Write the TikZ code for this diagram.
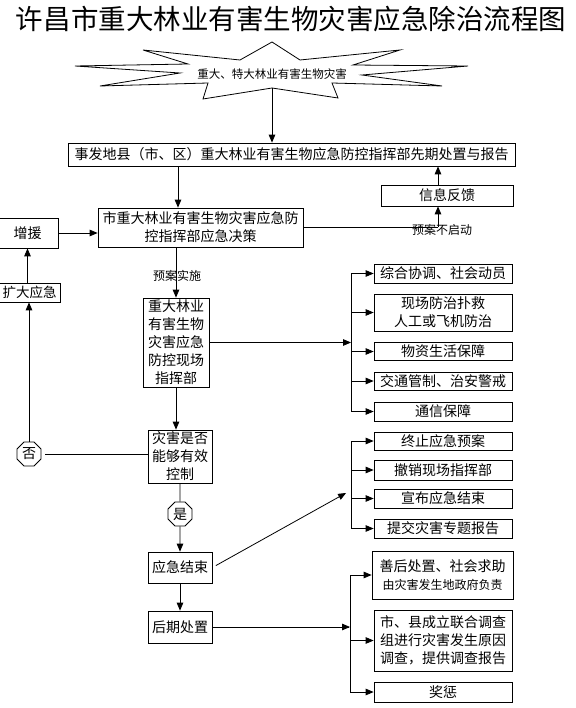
\documentclass[tikz,border=0pt]{standalone}
\usepackage{fontspec}
\setmainfont{Noto Sans CJK SC}
\usetikzlibrary{positioning,arrows,shapes.geometric,calc}
\tikzset{
  box/.style={draw=black, rectangle, inner sep=0pt, align=center,
    font=\fontsize{14}{18}\selectfont},
  sidebox/.style={box, minimum width=138pt, minimum height=19pt},
  midbox/.style={box, minimum width=64pt},
  octa/.style={draw=black, regular polygon, regular polygon sides=8, inner sep=0pt,
    minimum size=26pt, font=\fontsize{14}{16}\selectfont},
  flow/.style={draw=black, -{triangle 45[scale=1.5]}},
  plain/.style={draw=black},
  tag/.style={inner sep=0pt, font=\fontsize{12}{14}\selectfont}
}

\begin{document}
\begin{tikzpicture}[x=1pt,y=-1pt,line width=0.8pt]
  \useasboundingbox (0,0) rectangle (575,708);
  \node[inner sep=0pt, font=\fontsize{27.5}{30}\selectfont] (title) at (291,19) {许昌市重大林业有害生物灾害应急除治流程图};

  % burst
  \draw (272,42) -- (300,60) -- (400,50) -- (353,65) -- (468,66) -- (362,75) -- (442,86)
    -- (332,83) -- (338,98) -- (272,88) -- (203,99) -- (208,83) -- (100,86) -- (180,73)
    -- (75,66) -- (188,64) -- (143,50) -- (240,60) -- cycle;
  \node[tag, font=\fontsize{11.5}{13}\selectfont] (hazard) at (272,74) {重大、特大林业有害生物灾害};
  \coordinate (starbot) at (272,88);

  \node[box, minimum width=447pt, minimum height=23pt] (report) at (291.5,154.5) {事发地县（市、区）重大林业有害生物应急防控指挥部先期处置与报告};
  \node[box, minimum width=132pt, minimum height=21pt] (feedback) at (447,195.5) {信息反馈};
  \node[box, minimum width=205pt, minimum height=39pt] (decision) at (200.5,227.5) {市重大林业有害生物灾害应急防\\控指挥部应急决策};
  \node[box, minimum width=61pt, minimum height=30pt] (reinforce) at (27.5,233) {增援};
  \node[box, minimum width=61pt, minimum height=19pt, font=\fontsize{13.5}{16}\selectfont] (expand) at (29.5,292.5) {扩大应急};

  \node[midbox, minimum width=66pt, minimum height=89pt] (scene) at (176,342.5) {重大林业\\有害生物\\灾害应急\\防控现场\\指挥部};
  \node[midbox, minimum height=53pt] (control) at (180,456.5) {灾害是否\\能够有效\\控制};
  \node[octa] (no) at (29,454) {否};
  \node[octa] (yes) at (180,514) {是};
  \node[midbox, minimum height=31pt] (end) at (180,567.5) {应急结束};
  \node[midbox, minimum height=32pt] (post) at (180,627) {后期处置};

  % actions of the scene command
  \node[sidebox] (r1) at (443,273.5) {综合协调、社会动员};
  \node[sidebox, minimum height=37pt] (r2) at (443,312.5) {现场防治扑救\\人工或飞机防治};
  \node[sidebox, minimum height=18pt] (r3) at (443,351.5) {物资生活保障};
  \node[sidebox, minimum height=18pt] (r4) at (443,381) {交通管制、治安警戒};
  \node[sidebox] (r5) at (443,411.5) {通信保障};

  % closing steps
  \node[sidebox, minimum height=18pt] (s1) at (443,441) {终止应急预案};
  \node[sidebox, minimum height=20pt] (s2) at (443,470) {撤销现场指挥部};
  \node[sidebox] (s3) at (443,498.5) {宣布应急结束};
  \node[sidebox] (s4) at (443,528.5) {提交灾害专题报告};

  % aftermath
  \node[sidebox, minimum width=141pt, minimum height=48pt] (t1) at (442.5,575) {善后处置、社会求助\\{\fontsize{12}{14}\selectfont 由灾害发生地政府负责}};
  \node[sidebox, minimum height=61pt] (t2) at (443,640.5) {市、县成立联合调查\\组进行灾害发生原因\\调查，提供调查报告};
  \node[sidebox, minimum height=20pt] (t3) at (443,692) {奖惩};

  \coordinate (midx) at (178,0);
  \coordinate (turn) at (438,227.5);
  \coordinate (xb) at (351,0);
  \coordinate (xc) at (350,0);
  \coordinate (br2) at (346,493);

  \draw[flow] (starbot) -- (starbot |- report.north);
  \draw[flow] (report.south -| midx) -- (decision.north -| midx);
  \draw[plain] (decision.east) -- (turn);
  \draw[flow] (turn) -- (turn |- feedback.south);
  \draw[flow] (feedback.north -| turn) -- (turn |- report.south);
  \node[tag] (noplan) at (442,229.5) {预案不启动};
  \draw[flow] (reinforce.east) -- (reinforce.east -| decision.west);
  \draw[flow] (expand.north -| reinforce.south) -- (reinforce.south);

  \draw[flow] (scene.north |- decision.south) -- (scene.north);
  \node[tag] (doplan) at (177,276) {预案实施};
  \draw[flow] (scene.south) -- (scene.south |- control.north);
  \draw[flow] (no.north) -- (no.north |- expand.south);
  \draw[plain, shorten <=4pt] (no.east) -- (no.east -| control.west);
  \draw[plain] (control.south) -- (yes.north);
  \draw[flow] (yes.south) -- (end.north);
  \draw[flow] (end.south) -- (post.north);

  \draw[flow] (scene.east) -- (scene.east -| xb);
  \draw[plain] (r1.west -| xb) -- (r5.west -| xb);
  \foreach \b in {r1,r2,r3,r4,r5}
    \draw[flow] (\b.west -| xb) -- (\b.west);

  \draw[flow, shorten <=4pt] (end.east) -- (br2);
  \draw[plain] (s1.west -| xb) -- (s4.west -| xb);
  \foreach \b in {s1,s2,s3,s4}
    \draw[flow] (\b.west -| xb) -- (\b.west);

  \draw[flow] (post.east) -- (post.east -| xc);
  \draw[plain] (t1.west -| xc) -- (t3.west -| xc);
  \foreach \b in {t1,t2,t3}
    \draw[flow] (\b.west -| xc) -- (\b.west);
\end{tikzpicture}
\end{document}
